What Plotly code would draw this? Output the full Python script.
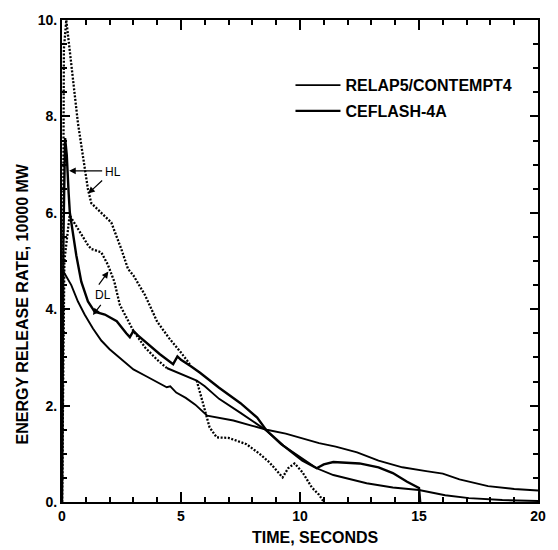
import plotly.graph_objects as go

# ---- data (time in seconds, energy release rate in 10000 MW) ----
hl_dot_t = [0.0, 0.08, 0.18, 0.4, 0.67, 1.09, 1.23, 1.65, 2.07, 2.49, 2.77, 3.0, 3.48, 4.0, 4.5, 5.0, 5.37]
hl_dot_y = [0.0, 9.4, 10.0, 9.0, 7.86, 6.49, 6.2, 6.0, 5.8, 5.25, 4.84, 4.7, 4.3, 3.74, 3.4, 3.1, 2.86]

dl_dot_t = [0.0, 0.1, 0.32, 0.67, 1.09, 1.23, 1.65, 1.93, 2.2, 2.43, 2.63, 3.0, 3.5, 4.0, 4.4]
dl_dot_y = [0.0, 5.0, 5.95, 5.66, 5.33, 5.25, 5.18, 4.92, 4.57, 4.09, 3.9, 3.55, 3.2, 2.95, 2.78]

dl_drop_t = [5.66, 5.9, 6.2, 6.5, 7.0, 7.75, 8.3, 8.72, 9.27, 9.5, 9.77, 10.1, 10.5, 10.8, 11.0]
dl_drop_y = [2.52, 2.1, 1.55, 1.34, 1.33, 1.2, 1.0, 0.82, 0.51, 0.7, 0.8, 0.62, 0.3, 0.15, 0.0]

relap_a_t = [0.0, 0.03, 0.11, 0.39, 0.67, 0.95, 1.3, 1.65, 2.0, 2.5, 3.0, 3.5, 4.0, 4.4, 4.55, 4.8, 5.2,
             5.6, 6.1, 6.6, 7.2, 8.0, 8.6, 9.4, 10.1, 10.8, 11.5, 12.4, 13.3, 14.3, 15.3, 16.0, 16.7,
             17.9, 19.0, 20.0]
relap_a_y = [0.0, 4.8, 4.74, 4.5, 4.16, 3.89, 3.6, 3.35, 3.17, 2.95, 2.75, 2.62, 2.48, 2.38, 2.4, 2.27, 2.16,
             2.02, 1.79, 1.75, 1.69, 1.58, 1.5, 1.42, 1.32, 1.22, 1.15, 1.03, 0.86, 0.72, 0.64, 0.59, 0.47,
             0.33, 0.27, 0.24]

relap_c_t = [4.4, 5.0, 5.66, 6.0, 6.6, 7.5, 8.4, 8.6, 9.2, 10.0, 10.7, 11.4, 12.8, 13.9, 15.0, 16.1,
             17.1, 18.5, 20.0]
relap_c_y = [2.78, 2.65, 2.52, 2.4, 2.14, 1.85, 1.55, 1.48, 1.2, 0.93, 0.7, 0.56, 0.39, 0.3, 0.25, 0.14,
             0.08, 0.04, 0.02]

ceflash_t = [0.0, 0.06, 0.13, 0.2, 0.28, 0.33, 0.6, 0.81, 1.09, 1.37, 1.8, 2.3, 2.7, 2.85, 3.0, 3.2, 4.1,
             4.67, 4.85, 5.0, 5.4, 5.8, 6.6, 7.5, 8.2, 8.6, 9.3, 10.1, 10.7, 11.0, 11.4, 12.5, 13.3, 13.9,
             14.5, 15.0, 15.05]
ceflash_y = [0.0, 5.5, 7.55, 7.2, 6.4, 6.0, 5.12, 4.57, 4.16, 3.95, 3.89, 3.75, 3.5, 3.42, 3.55, 3.45, 3.07,
             2.86, 3.02, 2.95, 2.82, 2.68, 2.37, 2.05, 1.75, 1.48, 1.17, 0.86, 0.7, 0.78, 0.83, 0.8, 0.72, 0.6,
             0.42, 0.29, 0.0]

FONT = "Liberation Sans, Arial, Helvetica, sans-serif"
BLACK = "black"
DOT = "2px,1.6px"

fig = go.Figure()

fig.add_trace(go.Scatter(x=relap_a_t, y=relap_a_y, mode="lines", name="RELAP5/CONTEMPT4",
                         line=dict(color=BLACK, width=1.9), legendgroup="r"))
fig.add_trace(go.Scatter(x=relap_c_t, y=relap_c_y, mode="lines", name="RELAP5/CONTEMPT4",
                         line=dict(color=BLACK, width=1.9), legendgroup="r", showlegend=False))
fig.add_trace(go.Scatter(x=ceflash_t, y=ceflash_y, mode="lines", name="CEFLASH-4A",
                         line=dict(color=BLACK, width=2.4), legendgroup="c"))
fig.add_trace(go.Scatter(x=hl_dot_t, y=hl_dot_y, mode="lines", name="HL",
                         line=dict(color=BLACK, width=2.3, dash=DOT), showlegend=False))
fig.add_trace(go.Scatter(x=dl_dot_t, y=dl_dot_y, mode="lines", name="DL",
                         line=dict(color=BLACK, width=2.3, dash=DOT), showlegend=False))
fig.add_trace(go.Scatter(x=dl_drop_t, y=dl_drop_y, mode="lines", name="DL",
                         line=dict(color=BLACK, width=2.3, dash=DOT), showlegend=False))
# invisible companion trace so that the overlay tick axes are rendered
fig.add_trace(go.Scatter(x=relap_a_t, y=relap_a_y, mode="lines", xaxis="x2", yaxis="y2",
                         line=dict(color="rgba(0,0,0,0)", width=0), showlegend=False,
                         hoverinfo="skip"))


def axis_style(ticklen, dtick, minor_dtick, labels=True):
    d = dict(showline=True, linecolor=BLACK, linewidth=2, mirror="allticks", ticks="inside",
             ticklen=ticklen, tickwidth=2, tickcolor=BLACK, dtick=dtick, tick0=0,
             showgrid=False, zeroline=False, showticklabels=labels,
             minor=dict(dtick=minor_dtick, ticklen=5, ticks="inside", tickcolor=BLACK, tickwidth=1.5))
    if labels:
        d["tickfont"] = dict(family=FONT, size=14, color=BLACK, weight="bold")
    return d


fig.update_layout(
    xaxis=dict(range=[0, 20], **axis_style(10, 5, 1)),
    yaxis=dict(range=[0, 10], ticksuffix=".", **axis_style(8, 2, 0.5)),
    xaxis2=dict(range=[0, 20], overlaying="x", anchor="y2", side="bottom", **axis_style(10, 5, 1, False)),
    yaxis2=dict(range=[0, 10], overlaying="y", anchor="x2", side="left", **axis_style(8, 2, 0.5, False)),
)

ann_font = dict(family=FONT, size=12, color=BLACK)
fig.add_annotation(x=2.15, y=6.85, xref="x", yref="y", text="HL", showarrow=False, font=ann_font)
fig.add_annotation(x=0.3, y=6.87, ax=1.75, ay=6.87, xref="x", yref="y", axref="x", ayref="y", text="",
                   showarrow=True, arrowhead=2, arrowsize=1.1, arrowwidth=1.2, arrowcolor=BLACK, standoff=0)
fig.add_annotation(x=1.1, y=6.4, ax=1.75, ay=6.7, xref="x", yref="y", axref="x", ayref="y", text="",
                   showarrow=True, arrowhead=2, arrowsize=1.1, arrowwidth=1.2, arrowcolor=BLACK, standoff=0)
fig.add_annotation(x=1.72, y=4.3, xref="x", yref="y", text="DL", showarrow=False, font=ann_font)
fig.add_annotation(x=1.95, y=4.78, ax=1.5, ay=4.48, xref="x", yref="y", axref="x", ayref="y", text="",
                   showarrow=True, arrowhead=2, arrowsize=1.1, arrowwidth=1.2, arrowcolor=BLACK, standoff=0)
fig.add_annotation(x=1.3, y=3.88, ax=1.68, ay=4.12, xref="x", yref="y", axref="x", ayref="y", text="",
                   showarrow=True, arrowhead=2, arrowsize=1.1, arrowwidth=1.2, arrowcolor=BLACK, standoff=0)
fig.add_annotation(x=-0.084, y=0.41, xref="paper", yref="paper", xanchor="center", yanchor="middle",
                   text="ENERGY RELEASE RATE, 10000 MW", textangle=-90, showarrow=False,
                   font=dict(family=FONT, size=16, color=BLACK, weight="bold"))
fig.add_annotation(x=0.532, y=-0.074, xref="paper", yref="paper", xanchor="center", yanchor="middle",
                   text="TIME, SECONDS", showarrow=False,
                   font=dict(family=FONT, size=16, color=BLACK, weight="bold"))

fig.update_layout(
    width=558, height=550,
    margin=dict(l=62, r=19, t=16, b=48),
    paper_bgcolor="white", plot_bgcolor="white",
    legend=dict(x=0.48, y=0.9, xanchor="left", yanchor="top",
                bgcolor="rgba(0,0,0,0)", itemwidth=45, tracegroupgap=2,
                font=dict(family=FONT, size=16, color=BLACK, weight="bold")),
    showlegend=True,
)

fig.write_html("out.html")
